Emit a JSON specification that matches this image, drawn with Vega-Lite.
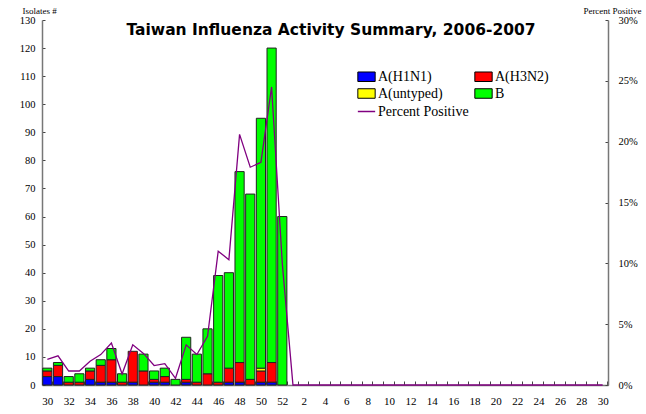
{
  "$schema": "https://vega.github.io/schema/vega-lite/v6.json",
  "width": 566,
  "height": 365,
  "autosize": "none",
  "padding": {"left": 42, "top": 20, "right": 38, "bottom": 29},
  "background": "white",
  "config": {
    "view": {"stroke": null},
    "axis": {"grid": false, "labelFont": "Liberation Serif", "titleFont": "Liberation Serif", "domainColor": "#777777", "domainWidth": 1.5, "tickColor": "#444444"},
    "legend": {"labelFont": "Liberation Serif", "labelFontSize": 14, "labelColor": "#000000"}
  },
  "title": {"text": "Taiwan Influenza Activity Summary, 2006-2007", "font": "DejaVu Sans", "fontWeight": "bold", "fontSize": 15.5, "color": "#000000", "anchor": "middle", "offset": -32, "dx": 6},
  "datasets": {
    "iso": [
      {"wk": "2006-30", "type": "A(H1N1)", "n": 3}, {"wk": "2006-30", "type": "A(H3N2)", "n": 2}, {"wk": "2006-30", "type": "B", "n": 1},
      {"wk": "2006-31", "type": "A(H1N1)", "n": 3}, {"wk": "2006-31", "type": "A(H3N2)", "n": 4}, {"wk": "2006-31", "type": "B", "n": 1},
      {"wk": "2006-32", "type": "A(H3N2)", "n": 1}, {"wk": "2006-32", "type": "B", "n": 2},
      {"wk": "2006-33", "type": "A(H3N2)", "n": 1}, {"wk": "2006-33", "type": "B", "n": 3},
      {"wk": "2006-34", "type": "A(H1N1)", "n": 2}, {"wk": "2006-34", "type": "A(H3N2)", "n": 3}, {"wk": "2006-34", "type": "B", "n": 1},
      {"wk": "2006-35", "type": "A(H1N1)", "n": 1}, {"wk": "2006-35", "type": "A(H3N2)", "n": 6}, {"wk": "2006-35", "type": "B", "n": 2},
      {"wk": "2006-36", "type": "A(H1N1)", "n": 1}, {"wk": "2006-36", "type": "A(H3N2)", "n": 8}, {"wk": "2006-36", "type": "B", "n": 4},
      {"wk": "2006-37", "type": "A(H3N2)", "n": 1}, {"wk": "2006-37", "type": "B", "n": 3},
      {"wk": "2006-38", "type": "A(H1N1)", "n": 1}, {"wk": "2006-38", "type": "A(H3N2)", "n": 11},
      {"wk": "2006-39", "type": "A(H3N2)", "n": 5}, {"wk": "2006-39", "type": "B", "n": 6},
      {"wk": "2006-40", "type": "A(H1N1)", "n": 1}, {"wk": "2006-40", "type": "A(H3N2)", "n": 1}, {"wk": "2006-40", "type": "B", "n": 3},
      {"wk": "2006-41", "type": "A(H1N1)", "n": 1}, {"wk": "2006-41", "type": "A(H3N2)", "n": 2}, {"wk": "2006-41", "type": "B", "n": 3},
      {"wk": "2006-42", "type": "B", "n": 2},
      {"wk": "2006-43", "type": "A(H1N1)", "n": 1}, {"wk": "2006-43", "type": "A(H3N2)", "n": 1}, {"wk": "2006-43", "type": "B", "n": 15},
      {"wk": "2006-44", "type": "A(H3N2)", "n": 1}, {"wk": "2006-44", "type": "B", "n": 10},
      {"wk": "2006-45", "type": "A(H3N2)", "n": 4}, {"wk": "2006-45", "type": "B", "n": 16},
      {"wk": "2006-46", "type": "A(H3N2)", "n": 1}, {"wk": "2006-46", "type": "B", "n": 38},
      {"wk": "2006-47", "type": "A(H1N1)", "n": 1}, {"wk": "2006-47", "type": "A(H3N2)", "n": 5}, {"wk": "2006-47", "type": "B", "n": 34},
      {"wk": "2006-48", "type": "A(H1N1)", "n": 1}, {"wk": "2006-48", "type": "A(H3N2)", "n": 7}, {"wk": "2006-48", "type": "B", "n": 68},
      {"wk": "2006-49", "type": "A(H3N2)", "n": 2}, {"wk": "2006-49", "type": "B", "n": 66},
      {"wk": "2006-50", "type": "A(H1N1)", "n": 1}, {"wk": "2006-50", "type": "A(H3N2)", "n": 4}, {"wk": "2006-50", "type": "A(untyped)", "n": 1}, {"wk": "2006-50", "type": "B", "n": 89},
      {"wk": "2006-51", "type": "A(H1N1)", "n": 1}, {"wk": "2006-51", "type": "A(H3N2)", "n": 7}, {"wk": "2006-51", "type": "B", "n": 112},
      {"wk": "2006-52", "type": "B", "n": 60}
    ],
    "pct": [
      {"wk": "2006-30", "p": 2.1}, {"wk": "2006-31", "p": 2.4}, {"wk": "2006-32", "p": 1.15}, {"wk": "2006-33", "p": 1.15},
      {"wk": "2006-34", "p": 1.95}, {"wk": "2006-35", "p": 2.5}, {"wk": "2006-36", "p": 3.45}, {"wk": "2006-37", "p": 0.9},
      {"wk": "2006-38", "p": 3.3}, {"wk": "2006-39", "p": 2.6}, {"wk": "2006-40", "p": 1.6}, {"wk": "2006-41", "p": 1.75},
      {"wk": "2006-42", "p": 0.55}, {"wk": "2006-43", "p": 3.3}, {"wk": "2006-44", "p": 2.5}, {"wk": "2006-45", "p": 4.0},
      {"wk": "2006-46", "p": 11.0}, {"wk": "2006-47", "p": 10.3}, {"wk": "2006-48", "p": 20.6}, {"wk": "2006-49", "p": 17.9},
      {"wk": "2006-50", "p": 18.3}, {"wk": "2006-51", "p": 24.5}, {"wk": "2006-52", "p": 10.0},
      {"wk": "2007-01", "p": 0}, {"wk": "2007-02", "p": 0}, {"wk": "2007-03", "p": 0}, {"wk": "2007-04", "p": 0},
      {"wk": "2007-05", "p": 0}, {"wk": "2007-06", "p": 0}, {"wk": "2007-07", "p": 0}, {"wk": "2007-08", "p": 0},
      {"wk": "2007-09", "p": 0}, {"wk": "2007-10", "p": 0}, {"wk": "2007-11", "p": 0}, {"wk": "2007-12", "p": 0},
      {"wk": "2007-13", "p": 0}, {"wk": "2007-14", "p": 0}, {"wk": "2007-15", "p": 0}, {"wk": "2007-16", "p": 0},
      {"wk": "2007-17", "p": 0}, {"wk": "2007-18", "p": 0}, {"wk": "2007-19", "p": 0}, {"wk": "2007-20", "p": 0},
      {"wk": "2007-21", "p": 0}, {"wk": "2007-22", "p": 0}, {"wk": "2007-23", "p": 0}, {"wk": "2007-24", "p": 0},
      {"wk": "2007-25", "p": 0}, {"wk": "2007-26", "p": 0}, {"wk": "2007-27", "p": 0}, {"wk": "2007-28", "p": 0},
      {"wk": "2007-29", "p": 0}, {"wk": "2007-30", "p": 0}
    ]
  },
  "encoding": {
    "x": {
      "field": "wk", "type": "ordinal",
      "scale": {"paddingInner": 0.14, "paddingOuter": 0.07},
      "axis": {
        "title": null, "labelAngle": 0, "labelFontSize": 11, "labelColor": "#000000",
        "labelExpr": "parseInt(split(datum.value, '-')[1]) % 2 == 0 ? '' + parseInt(split(datum.value, '-')[1]) : ''",
        "tickBand": "extent", "tickSize": -4, "labelPadding": 14, "labelOverlap": false
      }
    }
  },
  "layer": [
    {
      "data": {"name": "iso"},
      "mark": {"type": "bar", "stroke": "#222222", "strokeWidth": 1},
      "encoding": {
        "y": {
          "field": "n", "type": "quantitative", "aggregate": "sum", "stack": "zero",
          "scale": {"domain": [0, 130], "nice": false},
          "axis": {
            "title": "Isolates #", "titleAngle": 0, "titleFontSize": 9, "titleFontWeight": "normal", "titleColor": "#000000",
            "titleX": -20, "titleY": -5, "titleAlign": "left", "titleBaseline": "bottom",
            "values": [0, 10, 20, 30, 40, 50, 60, 70, 80, 90, 100, 110, 120, 130],
            "labelFontSize": 10.5, "labelColor": "#000000", "tickSize": -3, "labelPadding": 10
          }
        },
        "color": {
          "field": "type", "type": "nominal",
          "scale": {"domain": ["A(H1N1)", "A(untyped)", "A(H3N2)", "B"], "range": ["#0000ff", "#ffff00", "#ff0000", "#00ff00"]},
          "legend": {
            "title": null, "orient": "none", "legendX": 315, "legendY": 47, "columns": 2, "columnPadding": 29, "rowPadding": 0,
            "symbolType": "M-1,-0.55H1V0.55H-1Z", "symbolSize": 300, "symbolStrokeColor": "#000000", "symbolStrokeWidth": 1, "labelOffset": 2
          }
        },
        "order": {"field": "type", "sort": "ascending"}
      }
    },
    {
      "data": {"name": "pct"},
      "mark": {"type": "line", "strokeWidth": 1.3},
      "encoding": {
        "y": {
          "field": "p", "type": "quantitative",
          "scale": {"domain": [0, 30], "nice": false},
          "axis": {
            "orient": "right", "title": "Percent Positive", "titleAngle": 0, "titleFontSize": 9, "titleFontWeight": "normal", "titleColor": "#000000",
            "titleX": 4, "titleY": -5, "titleAlign": "center", "titleBaseline": "bottom",
            "values": [0, 5, 10, 15, 20, 25, 30], "labelExpr": "datum.value + '%'",
            "labelFontSize": 10.5, "labelColor": "#000000", "tickSize": -3, "labelPadding": 13
          }
        },
        "stroke": {
          "datum": "Percent Positive", "type": "nominal",
          "scale": {"range": ["#800080"]},
          "legend": {"title": null, "orient": "none", "legendX": 315, "legendY": 82, "symbolType": "stroke", "symbolSize": 300, "symbolStrokeWidth": 1.5, "labelOffset": 2}
        }
      }
    }
  ],
  "resolve": {"scale": {"y": "independent", "color": "independent"}}
}
